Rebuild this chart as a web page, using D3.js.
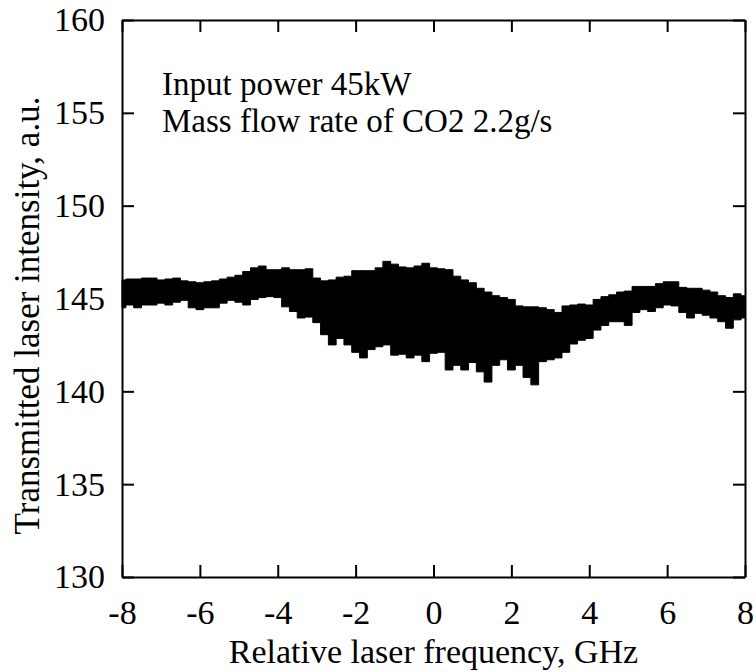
<!DOCTYPE html>
<html>
<head>
<meta charset="utf-8">
<script src="https://cdn.jsdelivr.net/npm/d3@7"></script>
<style>
  body { margin: 0; background: #fff; }
  svg text { font-family: "Liberation Serif", "Times New Roman", serif; fill: #000; }
</style>
</head>
<body>
<div id="chart"></div>
<script>
// relative laser frequency, GHz (0.2 GHz steps)
var freq = d3.range(81).map(function(i) { return -8 + i * 0.2; });

// upper edge of the noisy trace
var upper = [
  146.0, 146.05, 146.05, 146.1, 146.1, 146.0, 146.05, 146.1, 145.95, 145.9,
  145.85, 145.9, 145.95, 146.05, 146.15, 146.25, 146.45, 146.65, 146.75, 146.55,
  146.55, 146.65, 146.55, 146.55, 146.6, 146.1, 145.95, 146.0, 146.15, 146.2,
  146.5, 146.5, 146.5, 146.65, 147.0, 146.85, 146.7, 146.65, 146.75, 146.9,
  146.65, 146.6, 146.55, 146.2, 146.0, 145.85, 145.55, 145.35, 145.15, 145.05,
  144.95, 144.6, 144.55, 144.55, 144.5, 144.4, 144.25, 144.6, 144.65, 144.7,
  144.65, 144.95, 145.1, 145.2, 145.35, 145.4, 145.65, 145.65, 145.65, 145.8,
  145.9, 145.9, 145.6, 145.55, 145.55, 145.45, 145.35, 145.15, 145.05, 145.25,
  145.15
];

// lower edge (deepest dips) of the trace
var lower = [
  144.5, 144.65, 144.5, 144.65, 144.65, 144.75, 144.65, 144.8, 144.9, 144.5,
  144.4, 144.5, 144.5, 144.75, 144.9, 144.8, 144.65, 144.95, 145.05, 145.1,
  145.05, 144.55, 144.3, 143.95, 144.0, 143.7, 143.05, 142.5, 142.85, 142.5,
  142.1, 141.8, 142.25, 142.4, 142.5, 141.95, 142.0, 141.8, 141.95, 141.6,
  142.05, 142.1, 141.15, 141.4, 141.15, 141.55, 141.05, 140.5, 141.4, 141.7,
  141.15, 141.4, 140.75, 140.35, 141.6, 141.7, 141.8, 142.1, 142.55, 142.75,
  142.85, 143.3, 143.55, 143.75, 143.75, 143.55, 144.25, 144.4, 144.3, 144.5,
  144.65, 144.6, 144.25, 143.95, 144.2, 144.1, 143.95, 143.75, 143.4, 143.85,
  143.95
];

var xTicks = [-8, -6, -4, -2, 0, 2, 4, 6, 8];
var yTicks = [130, 135, 140, 145, 150, 155, 160];
var notes = ["Input power 45kW", "Mass flow rate of CO2 2.2g/s"];

var width = 756, height = 672;
var margin = {left: 122, right: 11, top: 20, bottom: 95};
var w = width - margin.left - margin.right;
var h = height - margin.top - margin.bottom;

var svg = d3.select("#chart").append("svg")
    .attr("width", width)
    .attr("height", height);

var g = svg.append("g")
    .attr("transform", "translate(" + margin.left + "," + margin.top + ")");

var x = d3.scaleLinear().domain([-8, 8]).range([0, w]);
var y = d3.scaleLinear().domain([130, 160]).range([h, 0]);

var trace = freq.map(function(f, i) { return {f: f, hi: upper[i], lo: lower[i]}; });

// the trace, drawn as a stepped band
var area = d3.area()
    .curve(d3.curveStep)
    .x(function(d) { return x(d.f); })
    .y0(function(d) { return y(d.lo); })
    .y1(function(d) { return y(d.hi); });

g.append("path")
    .datum(trace)
    .attr("d", area)
    .attr("fill", "#000")
    .attr("stroke", "#000")
    .attr("stroke-width", 1);

// frame with inward ticks on every side
var tickLen = 12;
var plain = function(d) { return String(d); };   // hyphen, not the unicode minus
var axes = [
  d3.axisBottom(x).tickValues(xTicks).tickSizeInner(-tickLen).tickSizeOuter(0).tickPadding(23).tickFormat(plain),
  d3.axisTop(x).tickValues(xTicks).tickSizeInner(-tickLen).tickSizeOuter(0).tickFormat(""),
  d3.axisLeft(y).tickValues(yTicks).tickSizeInner(-tickLen).tickSizeOuter(0).tickPadding(17).tickFormat(plain),
  d3.axisRight(y).tickValues(yTicks).tickSizeInner(-tickLen).tickSizeOuter(0).tickFormat("")
];
var shifts = ["0," + h, "0,0", "0,0", w + ",0"];

axes.forEach(function(a, i) {
  var ax = g.append("g")
      .attr("transform", "translate(" + shifts[i] + ")")
      .call(a);
  ax.selectAll("path, line").attr("stroke", "#000").attr("stroke-width", 2);
  ax.selectAll("text")
      .style("font-size", "34px")
      .attr("fill", "#000");
});

g.append("text")
    .attr("x", w / 2)
    .attr("y", h + 86)
    .attr("text-anchor", "middle")
    .style("font-size", "34px")
    .text("Relative laser frequency, GHz");

g.append("text")
    .attr("transform", "translate(" + (-83) + "," + (h / 2 + 17) + ") rotate(-90)")
    .attr("text-anchor", "middle")
    .style("font-size", "35px")
    .text("Transmitted laser intensity, a.u.");

g.selectAll(".note")
    .data(notes).enter()
    .append("text")
    .attr("class", "note")
    .attr("x", 40)
    .attr("y", function(d, i) { return 75 + i * 37; })
    .style("font-size", "33px")
    .text(function(d) { return d; });
</script>
</body>
</html>
